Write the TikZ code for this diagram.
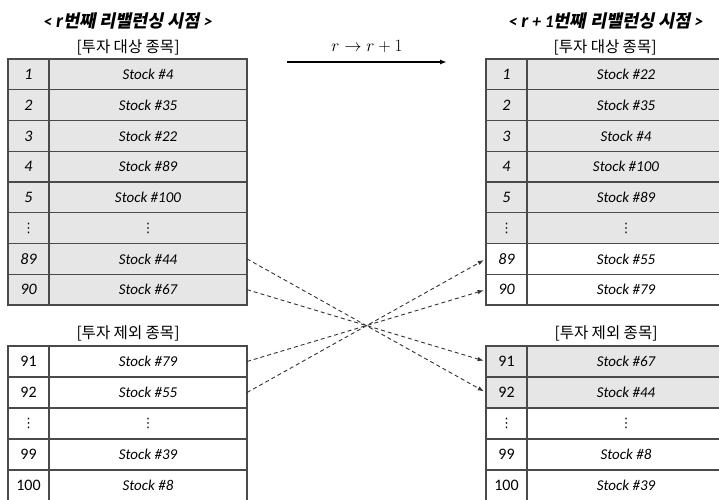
\documentclass[tikz,border=0pt]{standalone}
\usepackage{fontspec}
\setmainfont{Carlito}
\newfontfamily\kr{Noto Sans CJK KR}
\newfontfamily\krbi[FakeSlant=0.2]{Noto Sans CJK KR Bold}
\newfontfamily\dv{DejaVu Sans}
\newcommand\vd{{\dv\upshape\fontsize{13}{13}\selectfont ⋮}}
\usetikzlibrary{arrows.meta}
\definecolor{lineC}{HTML}{4A4A4A}
\definecolor{grayC}{HTML}{E6E6E6}
\newcommand\trow[7]{%
  \node[idxcell,fill=#5,minimum height=#4] (#1i) at (#2,#3) {#6};
  \node[stkcell,fill=#5,minimum height=#4] (#1s) at (#1i.north east) {#7};
}
\begin{document}
\begin{tikzpicture}[x=1pt,y=-1pt,
  cell/.style={draw=lineC, line width=1.3pt, rectangle, inner sep=0pt, outer sep=0pt,
    anchor=north west, font=\fontsize{15}{16}\selectfont\itshape},
  idxcell/.style={cell, minimum width=41pt, font=\fontsize{16}{17}\selectfont\itshape},
  stkcell/.style={cell, minimum width=198pt},
  header/.style={font=\fontsize{17.5}{20}\selectfont, inner sep=0pt},
  sub/.style={font=\kr\fontsize{15.5}{18}\selectfont, inner sep=0pt},
  dasharrow/.style={draw=black!80, line width=0.9pt, dash pattern=on 4pt off 3pt,
    -{Latex[length=6pt,width=4.5pt]}, shorten >=2.5pt}]
\useasboundingbox (0,0) rectangle (719,499);
% headers
\node[header] (hL) at (128,21) {\bfseries\itshape <\ {\fontsize{20}{20}\selectfont r}{\krbi 번째 리밸런싱 시점}\ >};
\node[header] (hR) at (606,21) {\bfseries\itshape <\ {\fontsize{20}{20}\selectfont r} + 1{\krbi 번째 리밸런싱 시점}\ >};
\node[sub] (sL) at (128,47) {[투자 대상 종목]};
\node[sub] (sR) at (605,47) {[투자 대상 종목]};
\node[sub] (bL) at (128,333) {[투자 제외 종목]};
\node[sub] (bR) at (606,333) {[투자 제외 종목]};
% transition arrow
\coordinate (aS) at (287,62);
\coordinate (aE) at (447,62);
\draw[line width=1.5pt, -{Latex[length=7pt,width=5pt]}] (aS) -- (aE);
\node[font=\fontsize{17}{20}\selectfont, inner sep=0pt] (aLab) at (367,46) {$r \to r + 1$};
% left top table
\trow{L1}{8}{59}{30.75pt}{grayC}{1}{Stock \#4}
\trow{L2}{8}{89.75}{30.75pt}{grayC}{2}{Stock \#35}
\trow{L3}{8}{120.5}{30.75pt}{grayC}{3}{Stock \#22}
\trow{L4}{8}{151.25}{30.75pt}{grayC}{4}{Stock \#89}
\trow{L5}{8}{182}{30.75pt}{grayC}{5}{Stock \#100}
\trow{L6}{8}{212.75}{30.75pt}{grayC}{\vd}{\vd}
\trow{L89}{8}{243.5}{30.75pt}{grayC}{89}{Stock \#44}
\trow{L90}{8}{274.25}{30.75pt}{grayC}{90}{Stock \#67}
% right top table
\trow{R1}{486}{59}{30.75pt}{grayC}{1}{Stock \#22}
\trow{R2}{486}{89.75}{30.75pt}{grayC}{2}{Stock \#35}
\trow{R3}{486}{120.5}{30.75pt}{grayC}{3}{Stock \#4}
\trow{R4}{486}{151.25}{30.75pt}{grayC}{4}{Stock \#100}
\trow{R5}{486}{182}{30.75pt}{grayC}{5}{Stock \#89}
\trow{R6}{486}{212.75}{30.75pt}{grayC}{\vd}{\vd}
\trow{R89}{486}{243.5}{30.75pt}{white}{89}{Stock \#55}
\trow{R90}{486}{274.25}{30.75pt}{white}{90}{Stock \#79}
% left bottom table
\trow{L91}{8}{346}{31pt}{white}{\upshape 91}{Stock \#79}
\trow{L92}{8}{377}{31pt}{white}{\upshape 92}{Stock \#55}
\trow{L93}{8}{408}{31pt}{white}{\vd}{\vd}
\trow{L99}{8}{439}{31pt}{white}{\upshape 99}{Stock \#39}
\trow{L100}{8}{470}{31pt}{white}{\upshape 100}{Stock \#8}
% right bottom table
\trow{R91}{486}{346}{31pt}{grayC}{\upshape 91}{Stock \#67}
\trow{R92}{486}{377}{31pt}{grayC}{\upshape 92}{Stock \#44}
\trow{R93}{486}{408}{31pt}{white}{\vd}{\vd}
\trow{R99}{486}{439}{31pt}{white}{\upshape 99}{Stock \#8}
\trow{R100}{486}{470}{31pt}{white}{\upshape 100}{Stock \#39}
% moves
\draw[dasharrow] (L89s.east) -- (R92i.west);
\draw[dasharrow] (L90s.east) -- (R91i.west);
\draw[dasharrow] (L91s.east) -- (R90i.west);
\draw[dasharrow] (L92s.east) -- (R89i.west);
\end{tikzpicture}
\end{document}
